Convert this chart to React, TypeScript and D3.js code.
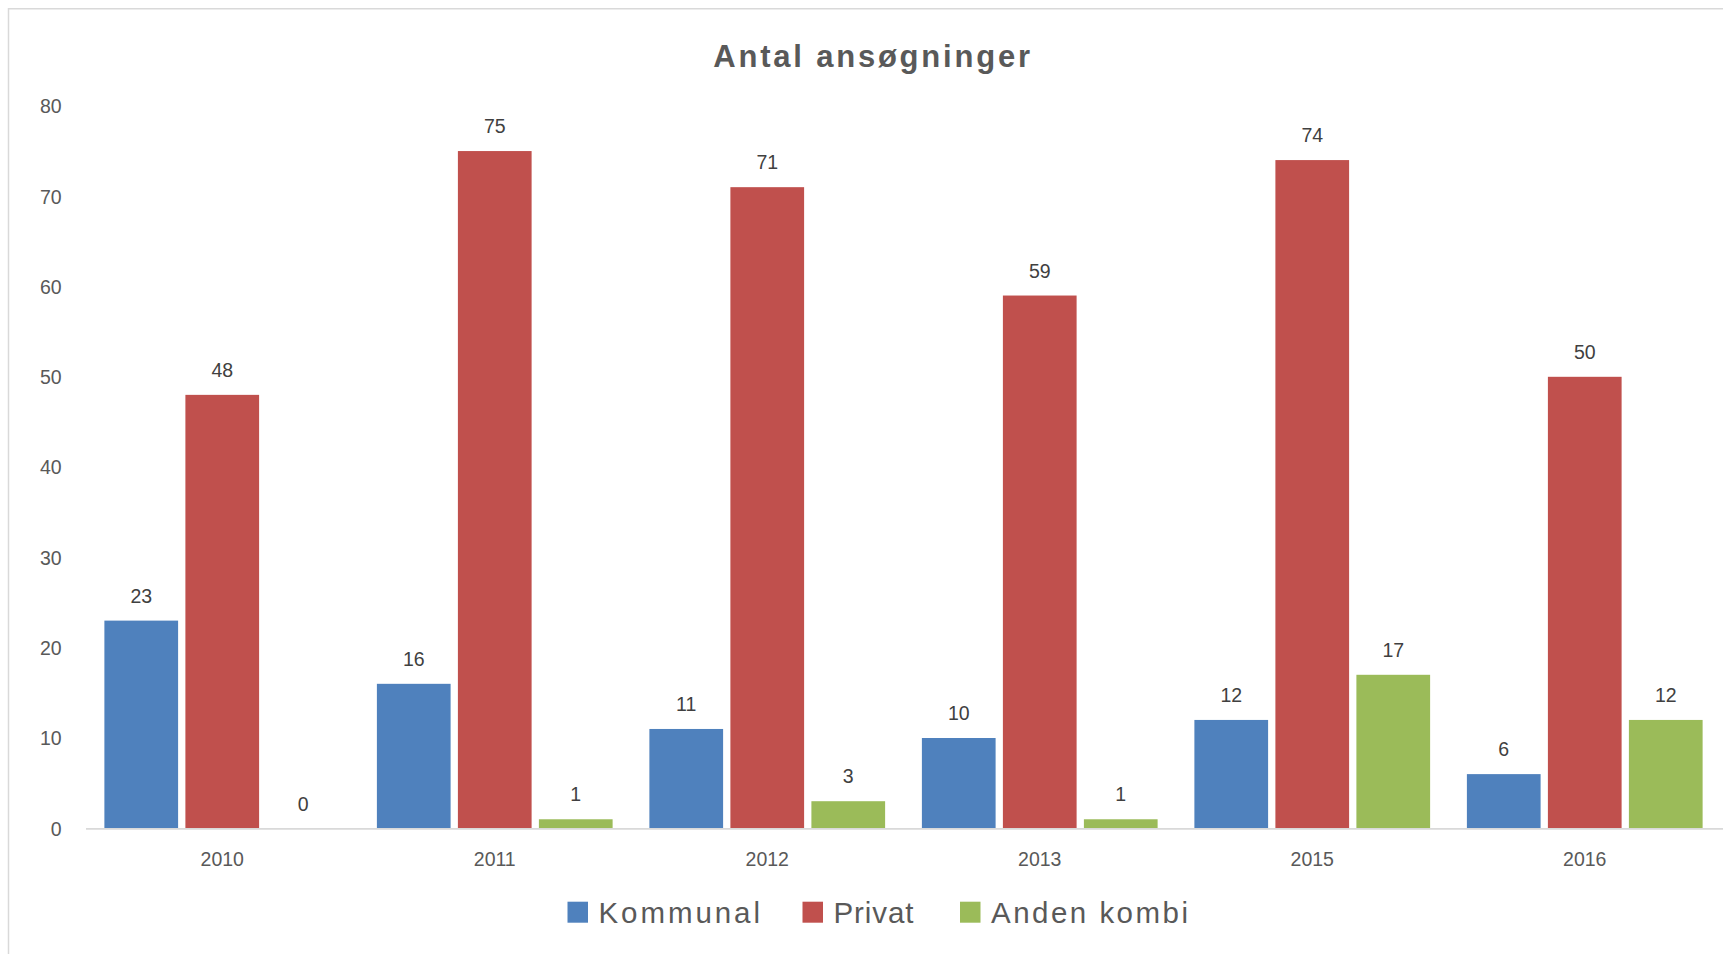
import React from "react";
import * as d3 from "d3";

const categories = ["2010", "2011", "2012", "2013", "2015", "2016"];
const seriesNames = ["Kommunal", "Privat", "Anden kombi"];
const kommunal = [23, 16, 11, 10, 12, 6];
const privat = [48, 75, 71, 59, 74, 50];
const andenKombi = [0, 1, 3, 1, 17, 12];
const yTicks = [0, 10, 20, 30, 40, 50, 60, 70, 80];
const colors = ["#4F81BD", "#C0504D", "#9BBB59"];
const title = "Antal ansøgninger";

const W = 1723;
const H = 954;
const plotLeft = 86;
const plotRight = 1721;
const plotTop = 105.9;
const plotBottom = 828.3;

const legendLayout = [
  { sq: 567.5, tx: 598.5, len: 161.5 },
  { sq: 802.5, tx: 833.5, len: 80 },
  { sq: 960, tx: 991, len: 197 },
];

export default function App() {
  const values = [kommunal, privat, andenKombi];
  const x0 = d3.scaleBand<string>().domain(categories).range([plotLeft, plotRight]).padding(0);
  const x1 = d3
    .scaleBand<string>()
    .domain(seriesNames)
    .range([0, x0.bandwidth()])
    .paddingInner(0.09)
    .paddingOuter(0.227);
  const y = d3.scaleLinear().domain([0, 80]).range([plotBottom, plotTop]);
  const font = "'Liberation Sans', Arial, Helvetica, sans-serif";

  return (
    <svg
      width={W}
      height={H}
      style={{ position: "absolute", left: 0, top: 0, background: "#fff" }}
      fontFamily={font}
    >
      <rect x={0} y={0} width={W} height={H} fill="#fff" />
      <rect x={8.5} y={8.75} width={W + 20} height={H + 20} fill="#fff" stroke="#d9d9d9" strokeWidth={1.5} />
      <text
        x={713.3}
        y={66.5}
        fontSize={31}
        fontWeight="bold"
        fill="#595959"
        textLength={316.7}
        lengthAdjust="spacing"
      >
        {title}
      </text>
      {yTicks.map((t) => (
        <text key={t} x={61.7} y={y(t) + 7.3} textAnchor="end" fontSize={19.5} fill="#595959">
          {t}
        </text>
      ))}
      {categories.map((c, ci) => (
        <g key={c}>
          {seriesNames.map((s, si) => {
            const v = values[si][ci];
            const bx = (x0(c) as number) + (x1(s) as number);
            const bw = x1.bandwidth();
            return (
              <g key={s}>
                {v > 0 && (
                  <rect x={bx} y={y(v)} width={bw} height={plotBottom - y(v)} fill={colors[si]} />
                )}
                <text
                  x={bx + bw / 2}
                  y={y(v) - 17.8}
                  textAnchor="middle"
                  fontSize={19.5}
                  fill="#404040"
                >
                  {v}
                </text>
              </g>
            );
          })}
          <text
            x={(x0(c) as number) + x0.bandwidth() / 2}
            y={866.3}
            textAnchor="middle"
            fontSize={19.5}
            fill="#595959"
          >
            {c}
          </text>
        </g>
      ))}
      <line x1={plotLeft} x2={W} y1={plotBottom + 0.5} y2={plotBottom + 0.5} stroke="#d9d9d9" strokeWidth={1.8} />
      {seriesNames.map((s, i) => (
        <g key={s}>
          <rect x={legendLayout[i].sq} y={901.7} width={20.5} height={21} fill={colors[i]} />
          <text
            x={legendLayout[i].tx}
            y={923.3}
            fontSize={29.5}
            fill="#595959"
            textLength={legendLayout[i].len}
            lengthAdjust="spacing"
          >
            {s}
          </text>
        </g>
      ))}
    </svg>
  );
}
